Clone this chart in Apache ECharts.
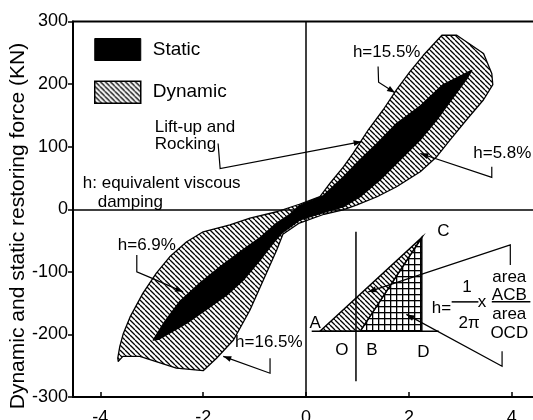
<!DOCTYPE html>
<html>
<head>
<meta charset="utf-8">
<script src="https://cdn.jsdelivr.net/npm/echarts@6/dist/echarts.min.js"></script>
<style>
  html, body { margin: 0; padding: 0; background: #fff; }
  #chart { width: 533px; height: 420px; }
</style>
</head>
<body>
<div id="chart"></div>
<script>
// Displacement ticks (cm) and force range (kN)
const xTickValues = [-4, -2, 0, 2, 4];
const yMin = -300, yMax = 300, yStep = 100;

// Dynamic hysteresis envelope, traced counter-clockwise [displacement, force]
const dynamicLoop = [
  [-3.65, -243], [-3.56, -235], [-3.23, -235], [-2.52, -254], [-2.00, -258],
  [-1.74, -238], [-1.41, -209], [-1.09, -161], [-0.83, -113], [-0.57, -65],
  [-0.45, -40], [-0.13, -22], [0.35, -8], [0.72, -1], [0.99, 7],
  [1.38, 20], [1.76, 36], [2.22, 60], [2.54, 84], [2.80, 111],
  [3.12, 143], [3.45, 175], [3.63, 199], [3.61, 217], [3.45, 249],
  [2.93, 278], [2.64, 278], [2.28, 246], [2.02, 220], [1.76, 191],
  [1.50, 159], [1.21, 127], [0.92, 90], [0.73, 68], [0.47, 42],
  [0.27, 20], [-0.13, 8], [-0.57, -4], [-1.09, -14], [-1.48, -25],
  [-2.00, -36], [-2.32, -52], [-2.65, -76], [-2.91, -102], [-3.17, -134],
  [-3.42, -172], [-3.55, -198], [-3.62, -219], [-3.66, -238]
];

// Static hysteresis loop [displacement, force]
const staticLoop = [
  [-2.97, -209], [-2.75, -180], [-2.45, -147], [-2.06, -118], [-1.67, -92],
  [-1.28, -68], [-0.89, -45], [-0.57, -22], [-0.31, -8], [-0.13, 6],
  [0.34, 22], [0.73, 52], [1.05, 79], [1.38, 105], [1.76, 137],
  [2.22, 165], [2.66, 199], [3.22, 222],
  [3.13, 209], [2.87, 180], [2.54, 143], [2.22, 111], [1.83, 79],
  [1.44, 47], [1.05, 20], [0.73, 4], [0.35, -5], [-0.12, -17],
  [-0.47, -38], [-0.64, -54], [-0.89, -81], [-1.22, -113], [-1.54, -137],
  [-1.87, -156], [-2.32, -182], [-2.87, -208]
];

// Text notes placed in data space: [text, [x, y]]
const notes = [
  ['h=15.5%', [0.91, 250]],
  ['h=5.8%', [3.25, 90]],
  ['Lift-up and', [-2.94, 131]],
  ['Rocking', [-2.94, 103]],
  ['h: equivalent viscous', [-4.34, 42]],
  ['damping', [-4.05, 11]],
  ['h=6.9%', [-3.66, -57]],
  ['h=16.5%', [-1.38, -213]],
  ['h=', [2.445, -158]]
];
// Centered labels of the damping sketch
const sketchLabels = [
  ['A', [0.175, -182]], ['C', [2.67, -36]], ['O', [0.695, -225]],
  ['B', [1.28, -225]], ['D', [2.28, -228]], ['1', [3.13, -124]],
  ['2π', [3.17, -182]], ['x', [3.42, -148]], ['area', [3.95, -108]],
  ['ACB', [3.95, -137]], ['area', [3.95, -168]], ['OCD', [3.95, -198]]
];
// Leader lines ending in an arrow
const leaders = [
  [[1.40, 228], [1.41, 203], [1.73, 186]],
  [[3.61, 68], [3.61, 51], [2.22, 89]],
  [[-1.71, 105], [-1.67, 65], [1.08, 108]],
  [[-3.29, -73], [-3.29, -100], [-3.0, -110], [-2.39, -132]],
  [[-0.70, -238], [-0.70, -262], [-1.61, -235]],
  [[3.97, -89], [3.97, -57], [1.21, -132]],
  [[3.81, -227], [3.81, -251], [1.95, -168]]
];
// Sketch geometry
const sketchA = [0.27, -195], sketchB = [1.05, -195], sketchC = [2.25, -45], sketchD = [2.25, -195];
const sketchBase = [[0.11, -195], [2.58, -195]];
const sketchAxis = [[0.97, -36], [0.97, -275]];
const fractionBars = [[[2.83, -148], [3.35, -148]], [[3.61, -148], [4.36, -148]]];

const FONT = '"Liberation Sans", Arial, Helvetica, sans-serif';

function hatchCanvas(size, lw) {
  const c = document.createElement('canvas');
  c.width = c.height = size;
  const g = c.getContext('2d');
  g.fillStyle = '#fff';
  g.fillRect(0, 0, size, size);
  g.strokeStyle = '#000';
  g.lineWidth = lw;
  g.beginPath();
  for (const o of [-size, 0, size]) { g.moveTo(o, 0); g.lineTo(o + size, size); }
  g.stroke();
  return c;
}
function gridCanvas(size) {
  const c = document.createElement('canvas');
  c.width = c.height = size;
  const g = c.getContext('2d');
  g.fillStyle = '#fff';
  g.fillRect(0, 0, size, size);
  g.fillStyle = '#000';
  g.fillRect(0, 0, 1.3, size);
  g.fillRect(0, 0, size, 1.3);
  return c;
}
const hatch = { image: hatchCanvas(5, 1.3), repeat: 'repeat' };
const gridFill = { image: gridCanvas(6), repeat: 'repeat' };

function loopSeries(name, loop, fill, z) {
  return {
    type: 'custom', name, z, silent: true, clip: false,
    coordinateSystem: 'cartesian2d',
    itemStyle: { color: fill },
    data: loop,
    renderItem: (params, api) => {
      if (params.dataIndex !== 0) return null;
      return {
        type: 'polygon',
        shape: { points: loop.map(p => api.coord(p)) },
        style: { fill, stroke: '#000', lineWidth: 1.3, lineJoin: 'round' }
      };
    }
  };
}

function arrowHead(p1, p2) {
  const dx = p2[0] - p1[0], dy = p2[1] - p1[1];
  const L = Math.hypot(dx, dy) || 1;
  const ux = dx / L, uy = dy / L;
  const len = 8, hw = 3;
  const bx = p2[0] - ux * len, by = p2[1] - uy * len;
  return [p2, [bx - uy * hw, by + ux * hw], [bx + uy * hw, by - ux * hw]];
}

function annotationItem(params, api) {
  const c = p => api.coord(p);
  const kids = [];
  const txt = { fill: '#000', fontSize: 17, fontFamily: FONT };
  // damping sketch
  kids.push({ type: 'polygon', shape: { points: [sketchB, sketchC, sketchD].map(c) },
              style: { fill: gridFill, stroke: '#000', lineWidth: 1.5 } });
  kids.push({ type: 'polygon', shape: { points: [sketchA, sketchC, sketchB].map(c) },
              style: { fill: hatch, stroke: '#000', lineWidth: 1.5 } });
  kids.push({ type: 'polyline', shape: { points: sketchBase.map(c) }, style: { stroke: '#000', lineWidth: 1.5, fill: null } });
  kids.push({ type: 'polyline', shape: { points: sketchAxis.map(c) }, style: { stroke: '#000', lineWidth: 1.5, fill: null } });
  fractionBars.forEach(b => kids.push({ type: 'polyline', shape: { points: b.map(c) },
                                          style: { stroke: '#000', lineWidth: 1.5, fill: null } }));
  // leaders
  leaders.forEach(pts => {
    const px = pts.map(c);
    kids.push({ type: 'polyline', shape: { points: px }, style: { stroke: '#000', lineWidth: 1.2, fill: null } });
    kids.push({ type: 'polygon', shape: { points: arrowHead(px[px.length - 2], px[px.length - 1]) },
                style: { fill: '#000' } });
  });
  notes.forEach(([t, p]) => {
    const q = c(p);
    kids.push({ type: 'text', x: q[0], y: q[1],
                style: Object.assign({ text: t, align: 'left', verticalAlign: 'middle' }, txt) });
  });
  sketchLabels.forEach(([t, p]) => {
    const q = c(p);
    kids.push({ type: 'text', x: q[0], y: q[1],
                style: Object.assign({ text: t, align: 'center', verticalAlign: 'middle' }, txt) });
  });
  return { type: 'group', children: kids };
}

const chart = echarts.init(document.getElementById('chart'), null, { renderer: 'canvas' });
chart.setOption({
  animation: false,
  backgroundColor: '#fff',
  grid: { left: 73, right: -2, top: 21.5, bottom: 23, show: true,
          containLabel: false, outerBoundsMode: 'none',
          borderColor: '#000', borderWidth: 2, backgroundColor: 'transparent' },
  legend: {
    orient: 'vertical', left: 94, top: 38, padding: 0,
    itemWidth: 46, itemHeight: 22, itemGap: 19.5, selectedMode: false,
    textStyle: { fontSize: 19, color: '#000', fontFamily: FONT, padding: [0, 0, 0, 7] },
    data: [
      { name: 'Static', icon: 'rect', itemStyle: { color: '#000', borderColor: '#000', borderWidth: 1 } },
      { name: 'Dynamic', icon: 'rect', itemStyle: { color: hatch, borderColor: '#000', borderWidth: 1.5 } }
    ]
  },
  xAxis: {
    type: 'value', min: -4.53, max: 4.45,
    axisLine: { show: true, onZero: false, lineStyle: { color: '#000', width: 2 } },
    axisTick: { show: true, inside: true, length: 5, customValues: xTickValues,
                lineStyle: { color: '#000', width: 1.5 } },
    axisLabel: { customValues: xTickValues, margin: 12, fontSize: 18, color: '#000', fontFamily: FONT },
    splitLine: { show: false }
  },
  yAxis: {
    type: 'value', min: yMin, max: yMax, interval: yStep,
    axisLine: { show: true, onZero: false, lineStyle: { color: '#000', width: 2 } },
    axisTick: { show: true, inside: false, length: 5, lineStyle: { color: '#000', width: 1.5 } },
    axisLabel: { margin: 5, fontSize: 18, color: '#000', fontFamily: FONT },
    splitLine: { show: false }
  },
  graphic: [{
    type: 'text', x: 18.5, y: 226, rotation: Math.PI / 2, silent: true,
    style: { text: 'Dynamic and static restoring force (KN)', fontSize: 21, fill: '#000',
             fontFamily: FONT, align: 'center', verticalAlign: 'middle' }
  }],
  series: [
    {
      type: 'line', name: 'axes', data: [], z: 1, silent: true,
      markLine: {
        silent: true, symbol: 'none', animation: false,
        label: { show: false },
        lineStyle: { color: '#000', width: 1.5, type: 'solid' },
        data: [{ xAxis: 0 }, { yAxis: 0 }]
      }
    },
    loopSeries('Dynamic', dynamicLoop, hatch, 2),
    loopSeries('Static', staticLoop, '#000', 3),
    {
      type: 'custom', name: 'notes', z: 4, silent: true, clip: false,
      coordinateSystem: 'cartesian2d',
      data: [[0, 0]],
      renderItem: annotationItem
    }
  ]
});
</script>
</body>
</html>
